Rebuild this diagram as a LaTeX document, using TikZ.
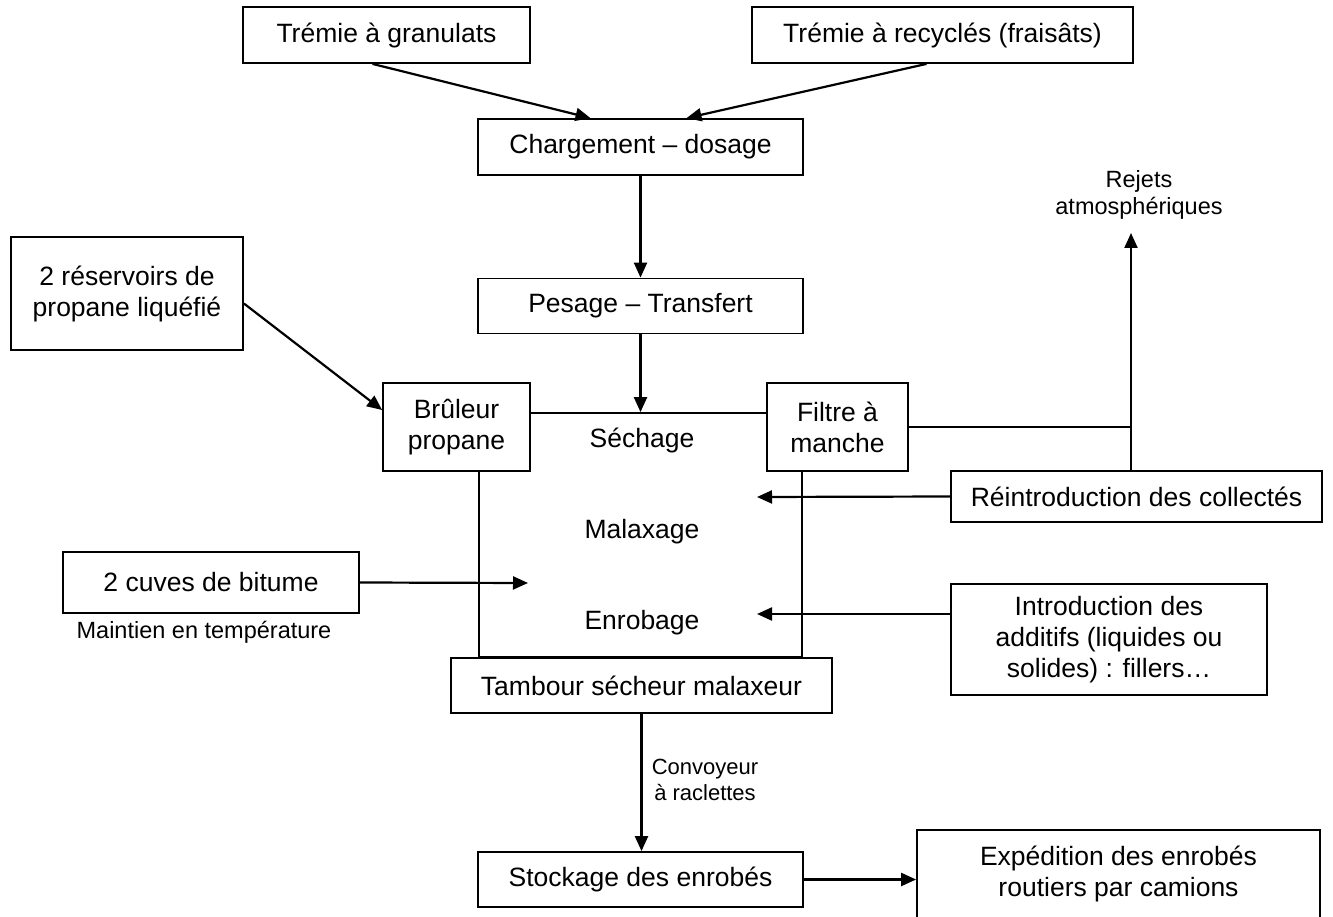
\documentclass[tikz,border=0pt]{standalone}
\usepackage{fontspec}
\setmainfont{Liberation Sans}
\usetikzlibrary{arrows.meta,calc}
\begin{document}
\begin{tikzpicture}[x=1pt,y=-1pt,
 box/.style={draw,line width=1.8pt,fill=white,align=center,inner sep=0pt,font=\fontsize{26.5}{31}\selectfont},
 lbl/.style={align=center,inner sep=0pt,font=\fontsize{26.5}{31}\selectfont},
 small/.style={align=center,inner sep=0pt,font=\fontsize{23.5}{26.5}\selectfont},
 ln/.style={line width=1.8pt},
 arr/.style={line width=2.2pt,-{Triangle[length=15pt,width=13pt]}}]
\useasboundingbox (0,0) rectangle (1333,917);
\clip (0,0) rectangle (1333,917);
\fill[white] (0,0) rectangle (1333,917);

\node[box,minimum width=287pt,minimum height=56pt] (tg) at (386.5,35) {Trémie à granulats};
\node[box,minimum width=381pt,minimum height=56pt] (tr) at (942.5,35) {Trémie à recyclés (fraisâts)};
\node[box,minimum width=325pt,minimum height=56pt] (chg) at (640.5,147) {Chargement – dosage};
\node[box,minimum width=325pt,minimum height=55pt] (pes) at (640.5,306) {Pesage – Transfert};
\node[box,minimum width=232pt,minimum height=113pt] (res) at (127,293.5) {2 réservoirs de\\propane liquéfié};
\node[draw,line width=1.8pt,minimum width=323pt,minimum height=244pt,inner sep=0pt] (frame) at (640.5,535) {};
\node[box,minimum width=147pt,minimum height=88pt] (bru) at (456.5,427) {Brûleur\\propane};
\node[box,minimum width=141pt,minimum height=88pt] (fil) at (837.5,427) {Filtre à\\manche};
\node[box,minimum width=371pt,minimum height=51pt] (rein) at (1136.5,496.5) {Réintroduction des collectés};
\node[box,minimum width=296pt,minimum height=61pt] (cuv) at (211,582.5) {2 cuves de bitume};
\node[box,minimum width=316pt,minimum height=111pt] (add) at (1109,639.5) {Introduction des\\additifs (liquides ou\\solides) : fillers…};
\node[box,minimum width=381pt,minimum height=55pt] (tam) at (641.5,685.5) {Tambour sécheur malaxeur};
\node[box,minimum width=325pt,minimum height=55pt] (sto) at (640.5,879.5) {Stockage des enrobés};
\node[box,minimum width=403pt,minimum height=110pt] (expbox) at (1118.5,885) {};
\node[lbl] (exptxt) at (1118.5,874) {Expédition des enrobés\\routiers par camions};

\node[lbl] (sech) at (642,440) {Séchage};
\node[lbl] (malax) at (642,532) {Malaxage};
\node[lbl] (enrob) at (642,623) {Enrobage};
\node[small] (rejets) at (1139,195) {Rejets\\atmosphériques};
\node[small] (maint) at (204,632) {Maintien en température};
\node[small,font=\fontsize{22}{26}\selectfont] (conv) at (705,780) {Convoyeur\\à raclettes};

\coordinate (cuvin) at (528,583);
\coordinate (reinin) at (757,497);
\coordinate (addin) at (757,614);
\coordinate (rj) at (1131,233);

\draw[arr] ($(tg.south)+(-14,0)$) -- ($(chg.north)+(-50,0)$);
\draw[arr] ($(tr.south)+(-16,0)$) -- ($(chg.north)+(46,0)$);
\draw[arr] (chg.south) -- (pes.north);
\draw[arr] (pes.south) -- (frame.north);
\draw[arr] ($(res.east)+(0,10)$) -- ($(bru.west)+(0,-17)$);
\draw[arr] (cuv.east) -- (cuvin);
\draw[arr] (rein.west) -- (reinin);
\draw[arr] (addin -| add.west) -- (addin);
\draw[ln] (fil.east) -- (fil.east -| rj);
\draw[arr] (rj |- rein.north) -- (rj);
\draw[arr] (tam.south) -- (tam.south |- sto.north);
\draw[arr] (sto.east) -- (sto.east -| expbox.west);
\end{tikzpicture}
\end{document}
